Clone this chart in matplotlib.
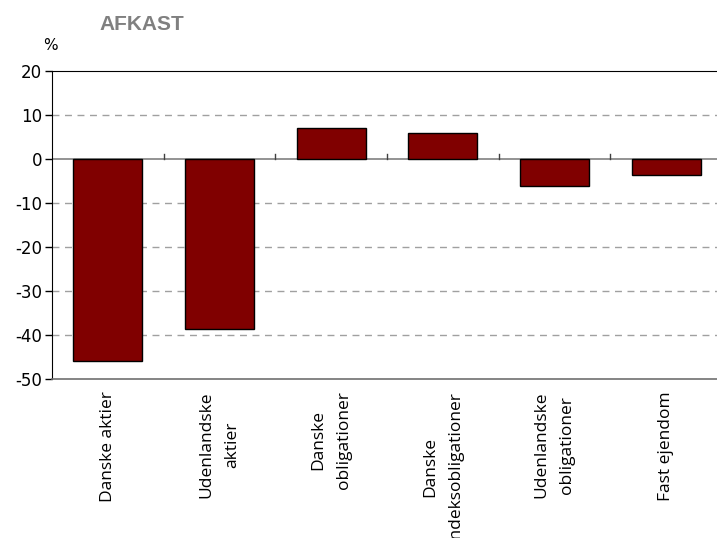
import numpy as np
import matplotlib; matplotlib.use("Agg"); import matplotlib.pyplot as plt

# kategorier og afkast i procent
CATS = ["Danske aktier", "Udenlandske\naktier", "Danske\nobligationer",
        "Danske\nindeksobligationer", "Udenlandske\nobligationer", "Fast ejendom"]
VALS = [-45.9, -38.7, 7.1, 5.8, -6.2, -3.7]
YTICKS = [20, 10, 0, -10, -20, -30, -40, -50]

W, H = 717, 538
fig = plt.figure(figsize=(W/100, H/100), dpi=100)
ax = fig.add_axes([52/W, 1-379/H, 670/W, 308/H])
x = np.arange(len(CATS))
ax.bar(x, VALS, width=0.62, color="#800000", edgecolor="black", lw=1.0, zorder=3)
ax.set_xlim(-0.5, len(CATS)-0.5); ax.set_ylim(-50, 20)

# gitter og nul-linje
for v in YTICKS[1:-1]:
    if v == 0:
        ax.axhline(0, color="#808080", lw=1.2, zorder=2)
    else:
        ax.axhline(v, color="#a0a0a0", ls=(0, (5, 4)), lw=1.0, zorder=1)
for b in np.arange(0.5, len(CATS)-0.5):
    ax.plot([b, b], [0, 1.2], color="#404040", lw=1.0, zorder=2)

ax.spines["right"].set_visible(False)
ax.spines["bottom"].set_color("#707070"); ax.spines["bottom"].set_linewidth(1.2)
ax.spines["left"].set_color("black"); ax.spines["top"].set_color("black")
ax.set_yticks(YTICKS)
ax.set_yticklabels([str(v) for v in YTICKS], fontsize=12)
ax.tick_params(axis="y", direction="out", length=5, width=1, pad=2)
ax.set_xticks(x)
ax.set_xticklabels(CATS, rotation=90, fontsize=12.5, family="Open Sans", va="top", ha="center",
                   multialignment="center", linespacing=1.8)
ax.tick_params(axis="x", length=0, pad=9)

fig.text(142/W, 1-25/H, "AFKAST", fontsize=15, fontweight="bold", family="Liberation Sans",
         color="#808080", ha="center", va="center")
fig.text(50/W, 1-45/H, "%", fontsize=11, ha="center", va="center")
fig.savefig("out.png", dpi=100)
